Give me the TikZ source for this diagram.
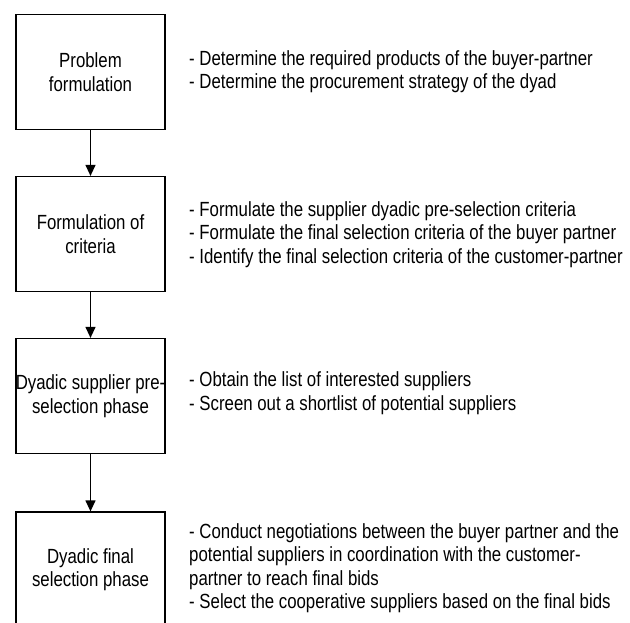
\documentclass[tikz,border=0pt]{standalone}
\usepackage{fontspec}
\setmainfont[FakeStretch=0.82]{Liberation Sans}
\usetikzlibrary{arrows.meta,positioning}
\begin{document}
\begin{tikzpicture}[x=1pt,y=-1pt,
  font=\fontsize{20.5}{23.4}\selectfont,
  stepbox/.style={draw=black,line width=1.2pt,minimum width=149pt,minimum height=115pt,
    inner sep=0pt,align=center},
  notes/.style={anchor=west,align=left,inner sep=0pt},
  flow/.style={line width=1.2pt,-{Triangle[width=10pt,length=11pt]}}]
\useasboundingbox (0,0) rectangle (630,623);
\clip (0,0) rectangle (630,623);
\node[stepbox] (b1) at (90.5,72) {Problem\\formulation};
\node[stepbox] (b2) at (90.5,234) {Formulation of\\criteria};
% the first line is wider than the box; keep the box at its fixed width
\node[stepbox] (b3) at (90.5,396) {\makebox[140pt]{Dyadic supplier pre-}\\selection phase};
\node[stepbox] (b4) at (90.5,569.5) {Dyadic final\\selection phase};
\draw[flow] (b1) -- (b2);
\draw[flow] (b2) -- (b3);
\draw[flow] (b3) -- (b4);
\node[notes] (t1) at (189,72) {- Determine the required products of the buyer-partner\\- Determine the procurement strategy of the dyad};
\node[notes] (t2) at (189,234.5) {- Formulate the supplier dyadic pre-selection criteria\\- Formulate the final selection criteria of the buyer partner\\- Identify the final selection criteria of the customer-partner};
\node[notes] (t3) at (189,393) {- Obtain the list of interested suppliers\\- Screen out a shortlist of potential suppliers};
\node[notes] (t4) at (189,568) {- Conduct negotiations between the buyer partner and the\\potential suppliers in coordination with the customer-\\partner to reach final bids\\- Select the cooperative suppliers based on the final bids};
\end{tikzpicture}
\end{document}
